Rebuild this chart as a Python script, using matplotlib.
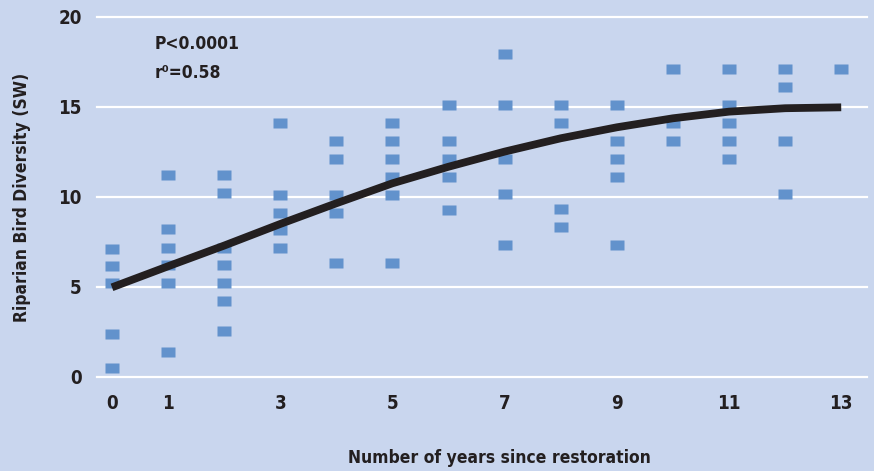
import matplotlib.pyplot as plt

BG_COLOR = "#C9D6EE"
MARKER_COLOR = "#6292CC"
CURVE_COLOR = "#231F20"

years = [0, 1, 2, 3, 4, 5, 6, 7, 8, 9, 10, 11, 12, 13]
diversity = [
    [7.1, 6.15, 5.2, 2.4, 0.5],
    [11.2, 8.2, 7.15, 6.2, 5.2, 1.4],
    [11.2, 10.2, 7.15, 6.2, 5.2, 4.2, 2.55],
    [14.1, 10.1, 9.1, 8.15, 7.15],
    [13.1, 12.1, 10.1, 9.1, 6.35],
    [14.1, 13.1, 12.1, 11.1, 10.1, 6.35],
    [15.1, 13.1, 12.1, 11.1, 9.25],
    [17.95, 15.1, 12.1, 10.15, 7.35],
    [15.1, 14.1, 9.35, 8.35],
    [15.1, 13.1, 12.1, 11.1, 7.35],
    [17.1, 14.1, 13.1],
    [17.1, 15.1, 14.1, 13.1, 12.1],
    [17.1, 16.1, 13.1, 10.15],
    [17.1],
]

trend_x = [0, 1, 2, 3, 4, 5, 6, 7, 8, 9, 10, 11, 12, 13]
trend_y = [4.98, 6.15, 7.3, 8.5, 9.65, 10.76, 11.68, 12.52, 13.26, 13.87, 14.37, 14.74, 14.93, 14.98]

x_ticks = [0, 1, 3, 5, 7, 9, 11, 13]
y_ticks = [0, 5, 10, 15, 20]
stats_lines = ["P<0.0001", "r\u2070=0.58"]

plt.rcParams['font.family'] = ['DejaVu Sans']
plt.rcParams['font.stretch'] = 'condensed'
plt.rcParams['font.weight'] = 'bold'

RECT = [(-0.7, -0.5), (0.7, -0.5), (0.7, 0.5), (-0.7, 0.5), (-0.7, -0.5)]
TEXT_KW = dict(fontsize=12.5, fontweight='bold', fontstretch='condensed', color='#231F20')


def _prepare_plot():
    fig = plt.figure(figsize=(8.74, 4.71), dpi=100, facecolor=BG_COLOR)
    ax = fig.add_axes([0.111, 0.1996, 0.881, 0.7644])
    ax.set_facecolor(BG_COLOR)
    for spine in ax.spines.values():
        spine.set_visible(False)
    return fig, ax


def _plot_points(ax):
    for x, ys in zip(years, diversity):
        ax.plot([x] * len(ys), ys, ls='none', marker=RECT, ms=10,
                color=MARKER_COLOR, mec='none', zorder=3)


def _plot_trend(ax):
    ax.plot(trend_x, trend_y, color=CURVE_COLOR, lw=5.6,
            solid_capstyle='butt', solid_joinstyle='round', zorder=4)


def _style_axes(ax):
    ax.set_xlim(-0.267, 13.46)
    ax.set_ylim(0, 20)
    ax.set_xticks(x_ticks)
    ax.set_yticks(y_ticks)
    ax.tick_params(axis='both', length=0, labelsize=13.5, colors='#231F20')
    ax.tick_params(axis='y', pad=11)
    ax.tick_params(axis='x', pad=12)
    for lbl in ax.get_xticklabels() + ax.get_yticklabels():
        lbl.set_fontstretch('condensed')
        lbl.set_fontweight('bold')
    for y in y_ticks:
        ax.axhline(y, color='white', lw=1.6, zorder=1, clip_on=False)
    ax.set_xlabel("Number of years since restoration", **TEXT_KW)
    ax.set_ylabel("Riparian Bird Diversity (SW)", **TEXT_KW)
    ax.xaxis.set_label_coords(0.523, -0.2)
    ax.yaxis.set_label_coords(-0.086, 0.5)
    for i, line in enumerate(stats_lines):
        ax.text(0.075, 0.925 - i * 0.08, line, transform=ax.transAxes,
                ha='left', va='center', **TEXT_KW)


fig, ax = _prepare_plot()
_plot_points(ax)
_plot_trend(ax)
_style_axes(ax)
fig.savefig("out.png", dpi=100, facecolor=BG_COLOR)
plt.close(fig)
